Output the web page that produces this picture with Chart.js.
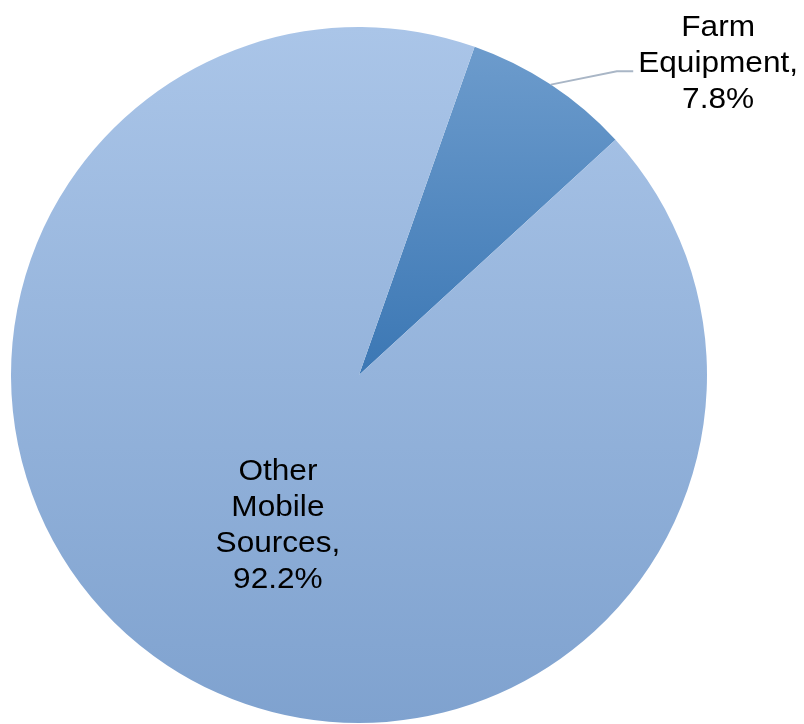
<!DOCTYPE html>
<html>
<head>
<meta charset="utf-8">
<script src="https://cdn.jsdelivr.net/npm/chart.js@4.4.0/dist/chart.umd.min.js"></script>
<style>
  html, body { margin: 0; padding: 0; background: #fff; }
  #wrap { width: 804px; height: 724px; position: relative; }
</style>
</head>
<body>
<div id="wrap"><canvas id="myChart" width="804" height="724"></canvas></div>
<script>
const categories = ['Farm Equipment', 'Other Mobile Sources'];
const shares = [7.8, 92.2];
const labelLines = [['Farm', 'Equipment,', '7.8%'], ['Other', 'Mobile', 'Sources,', '92.2%']];

// top / bottom colours of each slice's vertical gradient
const gradTop = ['#6c9bcc', '#aac5e8'];
const gradBottom = ['#3b77b4', '#7fa2cf'];

function sliceFill(c) {
    const chart = c.chart;
    const area = chart.chartArea;
    if (!area) return gradBottom[c.dataIndex];
    const cy = (area.top + area.bottom) / 2;
    const r = Math.min(area.right - area.left, area.bottom - area.top) / 2;
    let y0 = cy - r, y1 = cy + r;
    if (c.dataIndex === 0) { y0 = cy - r * 0.93; y1 = cy; }
    const g = chart.ctx.createLinearGradient(0, y0, 0, y1);
    g.addColorStop(0, gradTop[c.dataIndex]);
    g.addColorStop(1, gradBottom[c.dataIndex]);
    return g;
}

const pieLabels = {
    id: 'pieLabels',
    afterDatasetsDraw(chart) {
        const ctx = chart.ctx;
        const arcs = chart.getDatasetMeta(0).data;
        const cx = arcs[0].x, cy = arcs[0].y, r = arcs[0].outerRadius;
        ctx.save();
        ctx.font = '29px "Liberation Sans", Arial, sans-serif';
        ctx.fillStyle = '#000';
        ctx.textAlign = 'center';
        ctx.textBaseline = 'middle';

        // leader line for the small slice
        const a = (arcs[0].startAngle + arcs[0].endAngle) / 2;
        const px = cx + r * Math.cos(a), py = cy + r * Math.sin(a);
        ctx.strokeStyle = '#a9b6c6';
        ctx.lineWidth = 2;
        ctx.beginPath();
        ctx.moveTo(px, py);
        ctx.lineTo(cx + r * 0.741, cy - r * 0.873);
        ctx.lineTo(cx + r * 0.788, cy - r * 0.873);
        ctx.stroke();

        const spots = [[cx + r * 1.032, cy - r * 0.997], [cx - r * 0.233, cy + r * 0.279]];
        spots.forEach((s, i) => {
            labelLines[i].forEach((t, k) => {
                ctx.save();
                ctx.translate(s[0], s[1] + k * 36);
                ctx.scale(1.09, 1);
                ctx.fillText(t, 0, 0);
                ctx.restore();
            });
        });
        ctx.restore();
    }
};

new Chart(document.getElementById('myChart'), {
    type: 'pie',
    data: {
        labels: categories,
        datasets: [{
            data: shares,
            backgroundColor: sliceFill,
            borderWidth: 0
        }]
    },
    options: {
        responsive: false,
        animation: false,
        rotation: 19.4,
        layout: { padding: { left: 11, right: 97, top: 27, bottom: 1 } },
        plugins: { legend: { display: false }, tooltip: { enabled: false } }
    },
    plugins: [pieLabels]
});
</script>
</body>
</html>
